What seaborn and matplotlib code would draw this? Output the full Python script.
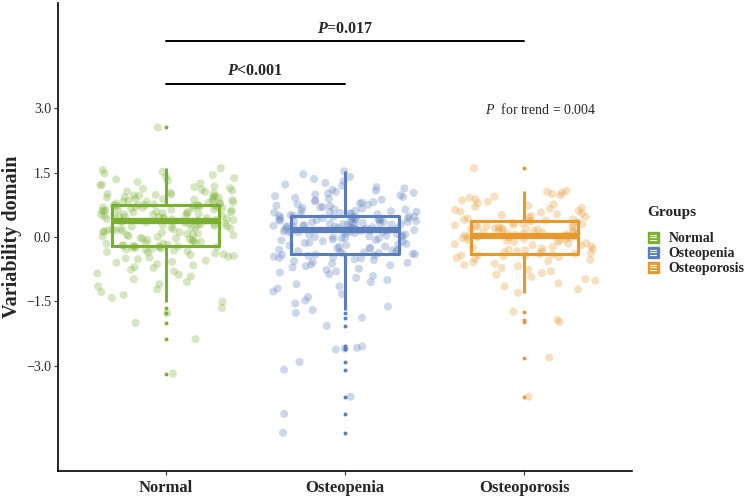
import numpy as np
import pandas as pd
import matplotlib
matplotlib.use('Agg')
import matplotlib.pyplot as plt
import seaborn as sns
from matplotlib.patches import Patch, Rectangle
from matplotlib.lines import Line2D
from matplotlib.legend_handler import HandlerBase

# groups and colours
groups = ['Normal', 'Osteopenia', 'Osteoporosis']
colors = ['#7aaf32', '#5a7dbb', '#e69a2e']

# values (one list per group)
normal = [
    -3.18, -2.38, -2.00, -1.78, -1.65,
    -1.51, -1.42, -1.35, -1.28, -1.22, -1.15, -1.10, -1.05, -0.98, -0.92,
    -0.88, -0.85, -0.80, -0.76, -0.72, -0.70, -0.66, -0.63, -0.60, -0.58,
    -0.55, -0.52, -0.50, -0.48, -0.46, -0.44, -0.42, -0.40, -0.38, -0.36,
    -0.35, -0.33, -0.32, -0.30, -0.29, -0.28, -0.27, -0.26, -0.25, -0.24,
    -0.23, -0.22, -0.22, -0.21, -0.21,
    -0.20, -0.19, -0.18, -0.16, -0.15, -0.14, -0.12, -0.11, -0.10, -0.08,
    -0.07, -0.05, -0.04, -0.03, -0.02, 0.00, 0.01, 0.02, 0.04, 0.05,
    0.06, 0.07, 0.08, 0.10, 0.11, 0.12, 0.13, 0.14, 0.15, 0.16,
    0.17, 0.18, 0.19, 0.20, 0.21, 0.22, 0.23, 0.24, 0.25, 0.26,
    0.27, 0.28, 0.29, 0.30, 0.31, 0.32, 0.33, 0.34, 0.35, 0.36,
    0.37, 0.38, 0.38, 0.39, 0.40, 0.41, 0.42, 0.42, 0.43, 0.44,
    0.45, 0.46, 0.47, 0.48, 0.48, 0.49, 0.50, 0.51, 0.52, 0.52,
    0.53, 0.54, 0.55, 0.56, 0.57, 0.58, 0.58, 0.59, 0.60, 0.61,
    0.62, 0.62, 0.63, 0.64, 0.65, 0.66, 0.67, 0.67, 0.68, 0.69,
    0.70, 0.70, 0.71, 0.72, 0.72, 0.73, 0.73, 0.74, 0.74, 0.74,
    0.75, 0.76, 0.77, 0.78, 0.79, 0.80, 0.81, 0.82, 0.83, 0.84,
    0.85, 0.86, 0.87, 0.88, 0.89, 0.90, 0.91, 0.92, 0.93, 0.94,
    0.95, 0.96, 0.97, 0.98, 0.99, 1.00, 1.02, 1.03, 1.05, 1.06,
    1.08, 1.10, 1.12, 1.14, 1.16, 1.18, 1.20, 1.22, 1.25, 1.28,
    1.31, 1.34, 1.37, 1.40, 1.44, 1.48, 1.52, 1.56, 1.60, 2.55,
]
osteopenia = [
    -4.56, -4.12, -3.72, -3.09, -2.91, -2.62, -2.60, -2.58, -2.55, -2.07,
    -1.88, -1.77,
    -1.70, -1.62, -1.55, -1.48, -1.40, -1.33, -1.27, -1.20, -1.15, -1.10,
    -1.05, -1.00, -0.95, -0.91, -0.87, -0.83, -0.80, -0.77, -0.74, -0.71,
    -0.68, -0.66, -0.64, -0.62, -0.60, -0.58, -0.56, -0.54, -0.52, -0.50,
    -0.49, -0.47, -0.46, -0.44, -0.43, -0.42, -0.41, -0.40,
    -0.39, -0.38, -0.37, -0.36, -0.35, -0.34, -0.33, -0.31, -0.30, -0.29,
    -0.27, -0.26, -0.25, -0.23, -0.22, -0.20, -0.19, -0.17, -0.16, -0.14,
    -0.13, -0.11, -0.10, -0.08, -0.07, -0.06, -0.04, -0.03, -0.02, -0.01,
    0.00, 0.01, 0.02, 0.03, 0.04, 0.05, 0.06, 0.07, 0.08, 0.09,
    0.10, 0.11, 0.11, 0.12, 0.13, 0.13, 0.14, 0.14, 0.15, 0.15,
    0.16, 0.17, 0.17, 0.18, 0.19, 0.19, 0.20, 0.21, 0.21, 0.22,
    0.23, 0.23, 0.24, 0.25, 0.25, 0.26, 0.27, 0.27, 0.28, 0.29,
    0.29, 0.30, 0.31, 0.31, 0.32, 0.33, 0.33, 0.34, 0.35, 0.35,
    0.36, 0.37, 0.37, 0.38, 0.39, 0.39, 0.40, 0.41, 0.41, 0.42,
    0.43, 0.43, 0.44, 0.45, 0.45, 0.46, 0.47, 0.47, 0.48, 0.49,
    0.50, 0.51, 0.52, 0.53, 0.54, 0.55, 0.56, 0.57, 0.58, 0.59,
    0.60, 0.61, 0.62, 0.64, 0.65, 0.66, 0.68, 0.69, 0.70, 0.72,
    0.73, 0.75, 0.76, 0.78, 0.80, 0.81, 0.83, 0.85, 0.87, 0.89,
    0.91, 0.93, 0.95, 0.97, 0.99, 1.01, 1.03, 1.05, 1.08, 1.10,
    1.13, 1.16, 1.19, 1.22, 1.26, 1.30, 1.35, 1.40, 1.46, 1.53,
]
osteoporosis = [
    -3.72, -2.81, -1.98, -1.93, -1.74,
    -1.30, -1.22, -1.15, -1.08, -1.02, -0.98, -0.93, -0.88, -0.84, -0.80,
    -0.76, -0.72, -0.68, -0.65, -0.62, -0.59, -0.56, -0.53, -0.51, -0.49,
    -0.47, -0.45, -0.44, -0.43, -0.42, -0.41, -0.40,
    -0.39, -0.37, -0.36, -0.34, -0.33, -0.31, -0.30, -0.28, -0.27, -0.25,
    -0.23, -0.22, -0.20, -0.19, -0.17, -0.15, -0.14, -0.12, -0.11, -0.09,
    -0.08, -0.07, -0.05, -0.04, -0.03, -0.02, -0.01, 0.00, 0.00, 0.01,
    0.01, 0.02,
    0.03, 0.04, 0.05, 0.06, 0.07, 0.08, 0.09, 0.10, 0.11, 0.12,
    0.13, 0.14, 0.15, 0.16, 0.17, 0.18, 0.19, 0.20, 0.21, 0.22,
    0.23, 0.24, 0.25, 0.26, 0.27, 0.28, 0.29, 0.30, 0.32, 0.33,
    0.35, 0.36,
    0.37, 0.38, 0.40, 0.41, 0.43, 0.45, 0.47, 0.49, 0.51, 0.53,
    0.55, 0.57, 0.59, 0.61, 0.63, 0.66, 0.68, 0.70, 0.73, 0.76,
    0.79, 0.82, 0.85, 0.88, 0.91, 0.94, 0.97, 1.00, 1.03, 1.05,
    1.07, 1.60,
]

yticks = [-3.0, -1.5, 0.0, 1.5, 3.0]
ytick_labels = ['\u22123.0', '\u22121.5', '0.0', '1.5', '3.0']
p_labels = [r'$\mathbfit{P}$<0.001', r'$\mathbfit{P}$=0.017']
trend_label = r'$\mathit{P}$  for trend = 0.004'

df = pd.DataFrame({
    'Groups': ['Normal'] * len(normal) + ['Osteopenia'] * len(osteopenia)
              + ['Osteoporosis'] * len(osteoporosis),
    'value': normal + osteopenia + osteoporosis,
})

sns.set_theme(style='ticks')
plt.rcParams['font.family'] = ['Liberation Serif', 'DejaVu Serif']
plt.rcParams['mathtext.fontset'] = 'custom'
plt.rcParams['mathtext.rm'] = 'Liberation Serif'
plt.rcParams['mathtext.it'] = 'Liberation Serif:italic'
plt.rcParams['mathtext.bf'] = 'Liberation Serif:bold'
plt.rcParams['mathtext.bfit'] = 'Liberation Serif:italic:bold'

fig = plt.figure(figsize=(7.49, 4.99), dpi=100)
ax = fig.add_axes([0.0774, 0.0561, 0.7664, 0.938])

np.random.seed(3)
pal = dict(zip(groups, colors))
sns.stripplot(data=df, x='Groups', y='value', hue='Groups', order=groups,
              palette=pal, jitter=0.4, size=5.8, alpha=0.3, linewidth=0,
              legend=False, ax=ax, zorder=1)
sns.boxplot(data=df, x='Groups', y='value', hue='Groups', order=groups,
            palette=pal, fill=False, width=0.6, linewidth=2.2, whis=1.5,
            showcaps=False, legend=False, ax=ax,
            medianprops=dict(linewidth=4.5),
            flierprops=dict(marker='o', markersize=2.8, markeredgewidth=0))

# outlier dots in the group colour, like ggplot
for ln in ax.lines:
    xd = np.asarray(ln.get_xdata(), dtype=float)
    if ln.get_marker() == 'o' and len(xd) > 0:
        c = colors[int(round(xd.mean()))]
        ln.set_markerfacecolor(c)
        ln.set_markeredgecolor(c)
        ln.set_markeredgewidth(0)

# significance bars
ax.plot([0, 1], [3.56, 3.56], color='black', lw=1.4)
ax.plot([0, 2], [4.56, 4.56], color='black', lw=1.4)
ax.text(0.5, 3.86, p_labels[0], ha='center', va='center', fontsize=11.5, fontweight='bold')
ax.text(1.0, 4.84, p_labels[1], ha='center', va='center', fontsize=11.5, fontweight='bold')
ax.text(2.09, 2.97, trend_label, ha='center', va='center', fontsize=10)

ax.set_xlim(-0.6, 2.6)
ax.set_ylim(-5.45, 5.45)
ax.set_yticks(yticks)
ax.set_yticklabels(ytick_labels, fontsize=10)
ax.set_xticks(range(len(groups)))
ax.set_xticklabels(groups, fontsize=12, fontweight='bold')
ax.set_xlabel('')
ax.set_ylabel('Variability domain', fontsize=14.5, fontweight='bold', labelpad=3)
ax.tick_params(axis='both', length=3, width=0.8, color='#333333')
ax.tick_params(axis='y', pad=2)
for s in ['top', 'right']:
    ax.spines[s].set_visible(False)
for s in ['left', 'bottom']:
    ax.spines[s].set_linewidth(1.2)
    ax.spines[s].set_color('black')


class BoxKey(HandlerBase):
    def create_artists(self, legend, orig_handle, xdescent, ydescent,
                       width, height, fontsize, trans):
        c = orig_handle.get_facecolor()
        x0, y0 = -xdescent, -ydescent
        arts = [Rectangle((x0, y0), width, height, facecolor=c, edgecolor=c,
                          transform=trans)]
        for f in (0.3, 0.5, 0.7):
            arts.append(Line2D([x0 + width * 0.25, x0 + width * 0.75],
                               [y0 + height * f] * 2, color='white', lw=0.8,
                               transform=trans))
        return arts


handles = [Patch(facecolor=c) for c in colors]
leg = fig.legend(handles, groups, title='Groups', loc='upper left',
                 bbox_to_anchor=(0.848, 0.612), frameon=False,
                 handler_map={Patch: BoxKey()}, handlelength=0.8,
                 handleheight=0.9, handletextpad=0.7, labelspacing=0.1,
                 prop=dict(size=10, weight='bold'),
                 title_fontproperties=dict(size=11, weight='bold'))
leg._legend_box.align = 'left'
leg._legend_box.sep = 9

fig.savefig('out.png', dpi=100)
